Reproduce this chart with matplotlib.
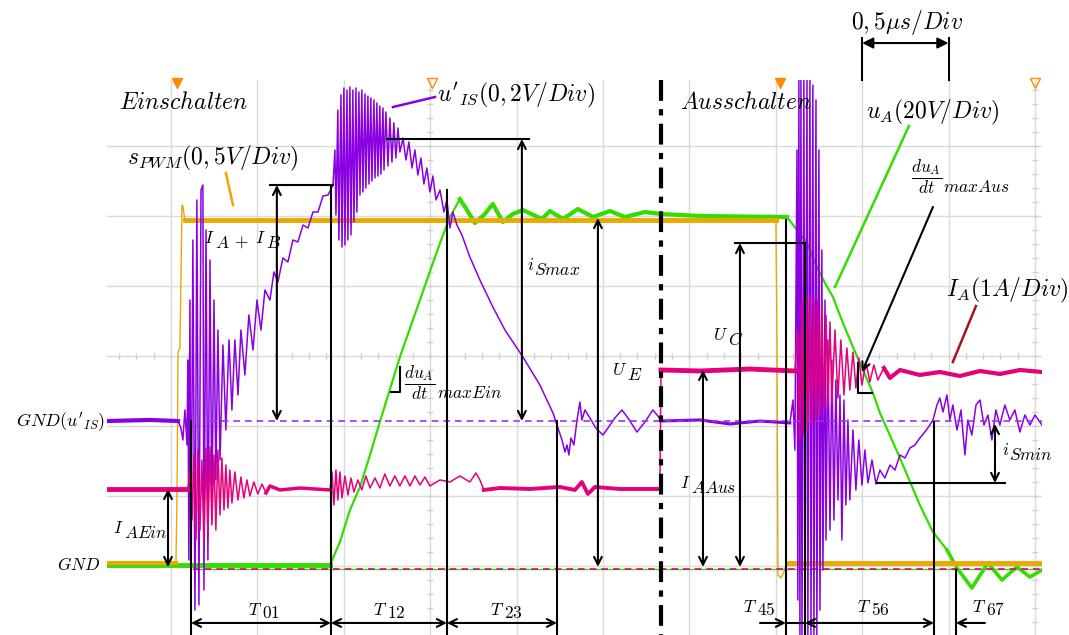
import numpy as np
import matplotlib
matplotlib.use('Agg')
import matplotlib.pyplot as plt

plt.rcParams['mathtext.fontset'] = 'cm'
plt.rcParams['font.family'] = ['DejaVu Sans']

# Zeit in us (0,5us/Div), Pegel in Div (0 = Bildschirmmitte)
t_pwm = [-0.370, 0.029, 0.035, 0.041, 0.052, 0.058, 0.064, 0.069, 0.081,
         3.501, 3.507, 3.513, 3.530, 3.547, 3.565, 5.041]
y_pwm = [-2.957, -2.957, -2.057, 0.057, 0.114, 1.086, 2.157, 2.143, 1.943,
         1.943, 0.371, -3.129, -3.171, -3.086, -2.957, -2.957]

t_ua = [-0.370, 0.920, 0.978, 1.036, 1.094, 1.152, 1.209, 1.325, 1.441, 1.557,
        1.615, 1.672, 1.713, 1.759, 1.811, 1.863, 1.921, 1.979, 2.037, 2.147,
        2.193, 2.269, 2.355, 2.442, 2.541, 2.627, 2.743, 2.836, 3.061, 3.565,
        3.623, 3.681, 3.738, 3.785, 3.831, 3.889, 3.947, 4.005, 4.063, 4.103,
        4.219, 4.334, 4.410, 4.491, 4.549, 4.635, 4.728, 4.809, 4.896, 4.971, 5.041]
y_ua = [-2.99, -2.99, -2.657, -2.2, -1.871, -1.414, -0.943, -0.014, 0.8, 1.614,
        1.986, 2.243, 2.086, 1.9, 2.014, 2.171, 1.914, 2.029, 2.086, 1.957,
        2.071, 1.957, 2.1, 1.986, 2.071, 1.986, 2.057, 2.029, 2.0, 1.986,
        1.8, 1.614, 1.271, 1.043, 0.843, 0.471, 0.129, -0.2, -0.529, -0.814,
        -1.457, -2.129, -2.514, -2.771, -3.029, -3.314, -2.957, -3.2, -3.014, -3.157, -3.057]

t_uis = [-0.370, -0.122, 0.041, 0.058, 0.069, 0.081, 0.093, 0.098, 0.104, 0.110,
         0.116, 0.127, 0.139, 0.150, 0.162, 0.174, 0.185, 0.191, 0.203, 0.214,
         0.226, 0.237, 0.249, 0.260, 0.272, 0.284, 0.301, 0.318, 0.336, 0.353,
         0.370, 0.388, 0.405, 0.428, 0.451, 0.475, 0.498, 0.521, 0.544, 0.573,
         0.596, 0.619, 0.648, 0.677, 0.706, 0.735, 0.764, 0.793, 0.822, 0.851,
         0.880, 0.909, 0.938,
         0.949, 0.955, 0.966, 0.972, 0.984, 0.990, 1.001, 1.007, 1.019, 1.024,
         1.036, 1.042, 1.053, 1.059, 1.071, 1.076, 1.088, 1.094, 1.105, 1.111,
         1.123, 1.128, 1.140, 1.146, 1.157, 1.163, 1.175, 1.181, 1.192, 1.198,
         1.209, 1.215, 1.227, 1.233, 1.244, 1.256, 1.267, 1.279, 1.290, 1.302,
         1.314, 1.325, 1.343, 1.360, 1.377, 1.395, 1.412, 1.429, 1.447, 1.464,
         1.481, 1.499, 1.516, 1.534, 1.557, 1.580, 1.597, 1.615, 1.632, 1.655,
         1.684, 1.730, 1.788, 1.863, 1.933, 2.037, 2.135, 2.211, 2.240, 2.263,
         2.280, 2.292, 2.303, 2.315, 2.332, 2.350, 2.367, 2.378, 2.396, 2.425,
         2.459, 2.500, 2.529, 2.569, 2.610, 2.645, 2.697, 2.743, 2.789, 2.818,
         2.836, 3.061, 3.235, 3.409, 3.582,
         3.600, 3.611, 3.623, 3.628, 3.634, 3.640, 3.646, 3.652, 3.663, 3.669,
         3.681, 3.686, 3.698, 3.704, 3.715, 3.721, 3.733, 3.738, 3.750, 3.756,
         3.767, 3.773, 3.785, 3.791, 3.802, 3.814, 3.825, 3.837, 3.848, 3.860,
         3.872, 3.883, 3.895, 3.906, 3.918, 3.929, 3.947, 3.964, 3.981, 3.999,
         4.016, 4.034, 4.057, 4.080, 4.103, 4.132, 4.161, 4.190, 4.219, 4.248,
         4.277, 4.306, 4.334, 4.363, 4.392, 4.410, 4.433, 4.450, 4.468, 4.491,
         4.508, 4.525, 4.549, 4.572, 4.595, 4.612, 4.635, 4.659, 4.682, 4.705,
         4.728, 4.751, 4.774, 4.797, 4.826, 4.855, 4.884, 4.913, 4.942, 4.971,
         5.000, 5.041]
y_uis = [-0.929, -0.914, -0.929, -1.029, -1.2, -0.771, -1.271, -0.057, -2.914, 0.8,
         -3.486, 1.657, -3.629, 2.229, -3.557, 2.371, 2.443, -3.343, 1.8, -2.914,
         1.371, -2.343, 0.8, -1.771, 0.371, -1.486, 0.157, -1.057, 0.229, -0.771,
         0.229, -0.557, 0.371, -0.271, 0.586, 0.086, 0.8, 0.371, 0.943, 0.8,
         1.2, 1.057, 1.4, 1.343, 1.657, 1.629, 1.871, 1.829, 2.057, 2.057,
         2.286, 2.3, 2.443,
         2.943, 2.014, 3.514, 1.657, 3.729, 1.557, 3.829, 1.586, 3.8, 1.657,
         3.843, 1.729, 3.8, 1.914, 3.829, 2.057, 3.771, 2.3, 3.8, 2.343,
         3.743, 2.4, 3.714, 2.457, 3.686, 2.5, 3.657, 2.543, 3.614, 2.571,
         3.571, 2.6, 3.543, 2.657, 3.486, 2.714, 3.4, 2.771, 3.329, 2.829,
         3.257, 2.914, 3.114, 2.8, 3.057, 2.686, 2.943, 2.586, 2.829, 2.457,
         2.686, 2.343, 2.571, 2.229, 2.371, 2.057, 2.229, 1.829, 2.057, 1.871,
         1.729, 1.414, 1.086, 0.7, 0.371, -0.014, -0.414, -0.814, -1.029, -1.2,
         -1.371, -1.271, -1.414, -1.171, -1.271, -0.914, -0.657, -0.914, -0.771, -0.886,
         -1.029, -1.129, -1.029, -0.886, -0.771, -0.886, -1.086, -0.943, -0.771, -0.857,
         -0.929, -0.914, -0.971, -0.929, -0.957,
         -0.629, -1.343, 2.943, -3.486, 3.943, -3.986, 3.943, -3.986, 3.943, -3.986,
         3.943, -3.986, 3.943, -3.986, 3.871, -3.986, 3.657, -3.986, 2.943, -3.629,
         1.514, -3.057, 0.8, -2.629, 0.229, -2.486, -0.057, -2.343, -0.343, -2.057,
         -0.557, -2.629, -0.629, -2.129, -0.914, -2.057, -1.057, -1.914, -1.2, -1.843,
         -1.343, -1.814, -1.486, -1.829, -1.629, -1.743, -1.557, -1.629, -1.414, -1.457,
         -1.314, -1.271, -1.171, -1.086, -0.986, -0.914, -0.7, -0.6, -0.8, -0.557,
         -0.914, -0.7, -1.057, -0.771, -1.414, -0.914, -1.129, -0.7, -0.629, -0.986,
         -0.843, -1.2, -0.771, -0.986, -0.7, -0.914, -0.771, -1.086, -0.843, -0.986,
         -0.843, -0.986]

t_ia = [-0.370, 0.098, 0.110, 0.122, 0.133, 0.145, 0.156, 0.168, 0.179, 0.191,
        0.203, 0.214, 0.226, 0.237, 0.249, 0.260, 0.272, 0.284, 0.295, 0.307,
        0.318, 0.330, 0.341, 0.353, 0.370, 0.388, 0.405, 0.422, 0.440, 0.457,
        0.480, 0.503, 0.527, 0.550, 0.573, 0.631, 0.747, 0.920, 0.932, 0.943,
        0.955, 0.966, 0.978, 0.990, 1.007, 1.024, 1.042, 1.059, 1.082, 1.105,
        1.128, 1.152, 1.181, 1.209, 1.238, 1.267, 1.296, 1.325, 1.354, 1.383,
        1.412, 1.441, 1.470, 1.499, 1.557, 1.615, 1.672, 1.730, 1.765, 1.788,
        1.811, 1.904, 2.078, 2.251, 2.338, 2.378, 2.413, 2.454, 2.598, 2.830,
        2.836, 3.061, 3.351, 3.611, 3.628, 3.640, 3.652, 3.663, 3.675, 3.686,
        3.698, 3.709, 3.721, 3.733, 3.744, 3.756, 3.767, 3.779, 3.791, 3.802,
        3.814, 3.825, 3.843, 3.860, 3.877, 3.895, 3.912, 3.929, 3.947, 3.964,
        3.981, 3.999, 4.022, 4.045, 4.068, 4.091, 4.126, 4.161, 4.219, 4.334,
        4.450, 4.566, 4.682, 4.797, 4.913, 5.041]
y_ia = [-1.9, -1.9, -1.629, -2.343, -1.414, -2.629, -1.343, -2.486, -1.486, -2.7,
        -1.314, -2.557, -1.3, -2.414, -1.414, -2.486, -1.343, -2.271, -1.457, -2.2,
        -1.557, -2.171, -1.629, -2.1, -1.657, -2.057, -1.729, -2.029, -1.771, -2.0,
        -1.8, -1.971, -1.829, -1.957, -1.857, -1.914, -1.886, -1.914, -1.657, -2.129,
        -1.629, -2.057, -1.657, -2.029, -1.714, -1.986, -1.743, -1.943, -1.771, -1.914,
        -1.714, -1.886, -1.743, -1.886, -1.686, -1.857, -1.714, -1.857, -1.714, -1.857,
        -1.714, -1.843, -1.729, -1.857, -1.771, -1.8, -1.714, -1.8, -1.671, -1.771,
        -1.914, -1.886, -1.9, -1.871, -1.914, -1.8, -1.971, -1.871, -1.9, -1.9,
        -0.2, -0.214, -0.186, -0.214, 0.371, -1.2, 0.8, -1.129, 0.871, -1.057,
        0.871, -0.986, 0.8, -0.914, 0.8, -0.843, 0.729, -0.771, 0.586, -0.7,
        0.486, -0.657, 0.371, -0.6, 0.229, -0.557, 0.114, -0.486, 0.057, -0.457,
        -0.029, -0.414, -0.086, -0.371, -0.129, -0.343, -0.171, -0.314, -0.2, -0.271,
        -0.229, -0.286, -0.214, -0.257, -0.2, -0.229]

gnd_uis = -0.929
gnd = -3.043

C_PWM = '#E8AA00'
C_UA = '#33DD00'
C_UIS = '#8A00E0'
C_IA = '#E6007A'

fig = plt.figure(figsize=(10.69, 6.35), dpi=100)
ax = fig.add_axes([107 / 1069, 0, (1042 - 107) / 1069, (635 - 80) / 635])
ax.set_xlim(-0.370, 5.041)
ax.set_ylim(-3.986, 3.943)
ax.set_xticks(np.arange(0, 5.01, 0.5))
ax.set_yticks(np.arange(-3, 3.1, 1))
ax.grid(color='#dadada', lw=1)
ax.tick_params(length=0, labelbottom=False, labelleft=False)
for s in ax.spines.values():
    s.set_visible(False)

# Feinteilung auf den Mittelachsen
mx = np.arange(-0.3, 5.0, 0.1)
ax.plot(mx, np.zeros_like(mx), ls='none', marker='|', ms=5, color='#cfcfcf', mew=1)
my = np.arange(-3.8, 3.9, 0.2)
for xc in (1.5, 5.0):
    ax.plot(np.full_like(my, xc), my, ls='none', marker='_', ms=5, color='#cfcfcf', mew=1)

# Messkurven
ax.plot(t_ua, y_ua, color=C_UA, lw=1.6)
ax.plot(t_ua[:2], y_ua[:2], color=C_UA, lw=3.5)
ax.plot(t_ua[11:30], y_ua[11:30], color=C_UA, lw=3)
ax.plot(t_ua[43:], y_ua[43:], color=C_UA, lw=2.6)
ax.plot(t_pwm, y_pwm, color=C_PWM, lw=1)
ax.plot(t_pwm[8:10], y_pwm[8:10], color=C_PWM, lw=3.5)
ax.plot(t_pwm[:2], y_pwm[:2], color=C_PWM, lw=3)
ax.plot(t_pwm[14:], y_pwm[14:], color=C_PWM, lw=3.5)
ax.plot([0.127, 5.041], [gnd, gnd], color=C_UA, lw=1)
ax.plot([0.127, 5.041], [gnd, gnd], color=C_IA, lw=1.2, ls=(0, (4, 3)))
ax.plot(t_uis, y_uis, color=C_UIS, lw=1.1)
ax.plot(t_uis[:3], y_uis[:3], color=C_UIS, lw=3)
ax.plot(t_uis[143:148], y_uis[143:148], color=C_UIS, lw=2.2)
ax.plot(t_ia, y_ia, color=C_IA, lw=1.1)
ax.plot(t_ia[:2], y_ia[:2], color=C_IA, lw=3.5)
ax.plot(t_ia[33:38], y_ia[33:38], color=C_IA, lw=2.5)
ax.plot(t_ia[70:80], y_ia[70:80], color=C_IA, lw=2.8)
ax.plot(t_ia[80:84], y_ia[80:84], color=C_IA, lw=3.5)
ax.plot(t_ia[116:], y_ia[116:], color=C_IA, lw=3)
ax.plot([0.226, 5.041], [gnd_uis, gnd_uis], color='#A030F0', lw=1.2, ls=(0, (4, 3)))

# Trigger-Marken
ax.plot([0.035, 3.524], [3.9, 3.9], ls='none', marker='v', ms=7, color='#FF8C00', clip_on=False)
ax.plot([1.510, 5.0], [3.9, 3.9], ls='none', marker='v', ms=7, mfc='none', mec='#FF8C00', clip_on=False)

K = dict(color='k', lw=1.5, clip_on=False)


def arrow(x0, y0, x1, y1, style='<->', ms=14):
    ax.annotate('', xy=(x1, y1), xytext=(x0, y0), annotation_clip=False,
                arrowprops=dict(arrowstyle=style, lw=1.5, color='k',
                                shrinkA=0, shrinkB=0, mutation_scale=ms))


def sym(x, y, base, idx, fs=12.5, drop=3.5):
    # Index in gleicher Groesse, rechts unten angesetzt
    t = ax.text(x, y, '$%s$' % base, fontsize=fs, ha='left', va='center')
    ax.annotate('$%s$' % idx, xy=(1, 0), xycoords=t, xytext=(0.2, -drop),
                textcoords='offset points', fontsize=fs, ha='left', va='bottom')
    return t


# Zeitmarken
for xv, ytop in [(0.116, gnd_uis), (0.926, 2.443), (1.597, 2.371), (2.234, gnd_uis),
                 (3.559, 1.943), (3.669, 1.614), (4.416, -0.943), (4.543, -3.057)]:
    ax.plot([xv, xv], [ytop, -3.986], **K)
ax.plot([2.836, 2.836], [3.943, -3.986], color='k', lw=3, ls=(0, (5, 2, 1.5, 2)), clip_on=False)

yb = -3.814
arrow(0.116, yb, 0.926, yb)
arrow(0.926, yb, 1.597, yb)
arrow(1.597, yb, 2.234, yb)
arrow(3.409, yb, 3.559, yb, '->')
ax.plot([3.559, 3.669], [yb, yb], **K)
arrow(3.669, yb, 4.416, yb)
arrow(4.711, yb, 4.543, yb, '->')

# Pegelpfeile
ax.plot([0.573, 0.938], [2.443, 2.443], **K)
arrow(0.613, 2.443, 0.613, gnd_uis)
ax.plot([1.250, 2.072], [3.1, 3.1], **K)
arrow(2.031, 3.1, 2.031, gnd_uis)
arrow(2.471, 1.971, 2.471, -3.014)
arrow(-0.017, -1.9, -0.017, -3.014)
arrow(3.079, -0.2, 3.079, -3.014)
ax.plot([3.264, 3.669], [1.614, 1.614], **K)
arrow(3.293, 1.614, 3.293, -3.014)
ax.plot([4.086, 4.826], [-1.814, -1.814], **K)
arrow(4.769, -0.971, 4.769, -1.814)

# Steilheitsmarken
ax.plot([1.273, 1.325, 1.325], [-0.514, -0.514, -0.157], **K)
ax.plot([3.976, 3.976, 4.057], [-0.1, -0.529, -0.529], **K)
arrow(4.410, 2.129, 3.999, -0.229, '->')

# Zeitbasis
ax.plot([4.0, 4.0], [4.543, 3.943], **K)
ax.plot([4.5, 4.5], [4.543, 3.943], **K)
arrow(4.0, 4.471, 4.5, 4.471, '<|-|>', 16)

# Beschriftungslinien
ax.plot([0.318, 0.359], [2.614, 2.157], color='#F5A300', lw=1.8)
ax.plot([1.285, 1.528], [3.557, 3.7], color=C_UIS, lw=1.8)
ax.plot([4.271, 3.843], [3.286, 0.986], color=C_UA, lw=1.8)
ax.plot([4.659, 4.525], [0.714, -0.086], color='#A8141E', lw=1.8)

fs = 17
ax.text(-0.301, 3.629, r'$Einschalten$', fontsize=fs, va='center')
ax.text(2.946, 3.629, r'$Ausschalten$', fontsize=fs, va='center')
ax.text(-0.255, 2.829, r'$s_{PWM}(0,5V/Div)$', fontsize=fs, va='center')
ax.text(1.539, 3.729, r"$u'_{IS}(0,2V/Div)$", fontsize=fs, va='center')
ax.text(4.259, 4.771, r'$0,5\mu s/Div$', fontsize=fs, va='center', ha='center')
ax.text(4.022, 3.486, r'$u_A(20V/Div)$', fontsize=fs, va='center')
ax.text(4.485, 0.943, r'$I_A(1A/Div)$', fontsize=fs, va='center')

fr = ax.text(1.350, -0.386, r'$\dfrac{du_A}{dt}$', fontsize=12.5, ha='left', va='center')
ax.annotate(r'$maxEin$', xy=(1, 0), xycoords=fr, xytext=(1, 0),
            textcoords='offset points', fontsize=12.5, ha='left', va='bottom')
fr = ax.text(4.282, 2.557, r'$\dfrac{du_A}{dt}$', fontsize=12.5, ha='left', va='center')
ax.annotate(r'$maxAus$', xy=(1, 0), xycoords=fr, xytext=(1, 0),
            textcoords='offset points', fontsize=12.5, ha='left', va='bottom')

sym(0.191, 1.686, 'I', 'A')
ax.text(0.405, 1.629, r'$+$', fontsize=12.5, ha='center', va='center')
sym(0.486, 1.686, 'I', 'B')
sym(2.060, 1.3, 'i', 'Smax')
sym(4.809, -1.343, 'i', 'Smin')
sym(2.946, -1.814, 'I', 'AAus')
sym(-0.336, -2.457, 'I', 'AEin')
sym(2.552, -0.2, 'U', 'E')
sym(3.137, 0.3, 'U', 'C')
for tx, ty, lab in [(0.446, -3.629, '01'), (1.169, -3.629, '12'), (1.846, -3.629, '23'),
                    (3.310, -3.586, '45'), (3.970, -3.586, '56'), (4.635, -3.586, '67')]:
    sym(tx, ty, 'T', lab, drop=2)

ax.text(-0.382, -0.943, r"$GND(u'_{IS})$", fontsize=13, va='center', ha='right')
ax.text(-0.405, -2.986, r'$GND$', fontsize=12.5, va='center', ha='right')

fig.savefig('out.png', dpi=100)
